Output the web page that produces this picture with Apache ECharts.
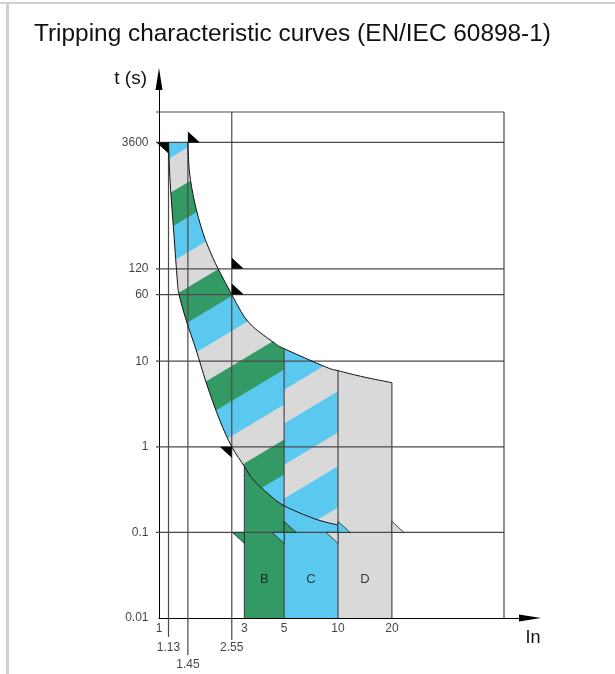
<!DOCTYPE html>
<html>
<head>
<meta charset="utf-8">
<script src="https://cdn.jsdelivr.net/npm/echarts@6/dist/echarts.min.js"></script>
<style>
  html, body { margin: 0; padding: 0; background: #fff; }
  #chart { width: 615px; height: 674px; }
</style>
</head>
<body>
<div id="chart"></div>
<script>
// tick labels (multiples of In, seconds)
const xTicks = [1, 1.13, 1.45, 2.55, 3, 5, 10, 20];
const yTicks = [0.01, 0.1, 1, 10, 60, 120, 3600];
const hRuleT = [3600, 120, 60, 10, 1, 0.1];

// diagram frame (top and right border of the grid box)
const yMin = 0.01;
const frameIn = 84.6;
const frameT = 8150;

// boundaries of the thermal band [In, t]
const lowerCurve = [[1.13, 3600], [1.155, 1197], [1.21, 315], [1.265, 89], [1.295, 60], [1.417, 30.3],
  [1.613, 13.5], [1.838, 5.56], [2.18, 2.06], [2.55, 1], [3, 0.59], [3.35, 0.415], [4.08, 0.282],
  [5, 0.205], [7.45, 0.1435], [10, 0.122]];
const upperCurve = [[1.45, 3600], [1.48, 1622], [1.58, 724], [1.76, 316], [2.0, 161], [2.28, 93],
  [2.55, 60], [2.76, 44.2], [3.0, 32.8], [3.32, 25.8], [3.64, 21.9], [4.42, 16.3], [5, 14],
  [8.56, 8.55], [10, 7.75], [13.97, 6.53], [20, 5.61]];

// magnetic bands
const bandNames = ['B', 'C', 'D'];
const bandRange = [[3, 5], [5, 10], [10, 20]];
const bandLabelT = 0.028;

// flag markers
const flagsBelowLeft = [[1.13, 3600], [2.55, 1]];
const flagsAboveRight = [[1.45, 3600], [2.55, 120], [2.55, 60]];
const bandFlagT = 0.1;

const GREEN = '#339a66', BLUE = '#5bc8ef', GREY = '#d9d9d9';
const bandColors = [GREEN, BLUE, GREY];
const FONT = 'Liberation Sans, Arial, sans-serif';

function idx(curve, x) { return curve.findIndex(p => p[0] === x); }
function tAt(curve, x) { return curve[idx(curve, x)][1]; }

// diagonal stripe pattern tile
function stripeFill(colors, shares, W, H, phase) {
  const cv = document.createElement('canvas');
  cv.width = W; cv.height = H;
  const ctx = cv.getContext('2d');
  const img = ctx.createImageData(W, H);
  const rgb = colors.map(c => [1, 3, 5].map(k => parseInt(c.substr(k, 2), 16)));
  const edges = []; let acc = 0;
  shares.forEach(s => { acc += s; edges.push(acc); });
  const S = 4;
  for (let j = 0; j < H; j++) {
    for (let i = 0; i < W; i++) {
      let r = 0, g = 0, b = 0;
      for (let sy = 0; sy < S; sy++) {
        for (let sx = 0; sx < S; sx++) {
          let f = (i + (sx + 0.5) / S) / W + (j + (sy + 0.5) / S) / H + phase;
          f -= Math.floor(f);
          let k = 0;
          while (k < edges.length - 1 && f >= edges[k]) k++;
          r += rgb[k][0]; g += rgb[k][1]; b += rgb[k][2];
        }
      }
      const o = (j * W + i) * 4;
      img.data[o] = r / (S * S);
      img.data[o + 1] = g / (S * S);
      img.data[o + 2] = b / (S * S);
      img.data[o + 3] = 255;
    }
  }
  ctx.putImageData(img, 0, 0);
  return { image: cv, repeat: 'repeat' };
}

const stripes3 = stripeFill([BLUE, GREY, GREEN], [1 / 3, 1 / 3, 1 / 3], 175, 105, 0.857);
const stripes2 = stripeFill([BLUE, GREY], [0.55, 0.45], 125, 75, 0.08);

// smooth (Catmull-Rom) pieces of a curve in pixel space
function bezSegs(curve, api) {
  const P = curve.map(p => api.coord(p));
  const segs = [];
  for (let i = 0; i < P.length - 1; i++) {
    const p0 = P[i - 1] || P[i], p1 = P[i], p2 = P[i + 1], p3 = P[i + 2] || P[i + 1];
    segs.push([p1,
      [p1[0] + (p2[0] - p0[0]) / 6, p1[1] + (p2[1] - p0[1]) / 6],
      [p2[0] - (p3[0] - p1[0]) / 6, p2[1] - (p3[1] - p1[1]) / 6],
      p2]);
  }
  return segs;
}
function fmt(p) { return p[0].toFixed(2) + ' ' + p[1].toFixed(2); }
// path commands following the curve from point i0 to point i1 (either direction)
function follow(segs, i0, i1) {
  let d = '';
  if (i1 > i0) {
    for (let i = i0; i < i1; i++) d += ' C' + fmt(segs[i][1]) + ' ' + fmt(segs[i][2]) + ' ' + fmt(segs[i][3]);
  } else {
    for (let i = i0 - 1; i >= i1; i--) d += ' C' + fmt(segs[i][2]) + ' ' + fmt(segs[i][1]) + ' ' + fmt(segs[i][0]);
  }
  return d;
}

const iU5 = idx(upperCurve, 5), iU10 = idx(upperCurve, 10), iUend = upperCurve.length - 1;
const iL3 = idx(lowerCurve, 3), iL5 = idx(lowerCurve, 5), iL10 = idx(lowerCurve, 10);

function renderFills(params, api) {
  if (params.dataIndex !== 0) return null;
  const U = bezSegs(upperCurve, api), L = bezSegs(lowerCurve, api);
  const up = i => (i < U.length ? U[i][0] : U[U.length - 1][3]);
  const lo = i => (i < L.length ? L[i][0] : L[L.length - 1][3]);
  const c = p => fmt(api.coord(p));
  const shapes = [
    [GREY, 'M' + fmt(up(0)) + follow(U, 0, iUend) + ' L' + c([20, yMin]) + ' L' + c([3, yMin]) +
      ' L' + fmt(lo(iL3)) + follow(L, iL3, 0) + ' Z'],
    [stripes3, 'M' + fmt(up(0)) + follow(U, 0, iU5) + ' L' + fmt(lo(iL5)) + follow(L, iL5, 0) + ' Z'],
    [stripes2, 'M' + fmt(up(iU5)) + follow(U, iU5, iU10) + ' L' + fmt(lo(iL10)) + follow(L, iL10, iL5) + ' Z'],
    [GREEN, 'M' + c([3, yMin]) + ' L' + c([5, yMin]) + ' L' + fmt(lo(iL5)) + follow(L, iL5, iL3) + ' Z'],
    [BLUE, 'M' + c([5, yMin]) + ' L' + c([10, yMin]) + ' L' + fmt(lo(iL10)) + follow(L, iL10, iL5) + ' Z']
  ];
  return {
    type: 'group',
    children: shapes.map(s => ({ type: 'path', shape: { pathData: s[1] }, style: { fill: s[0], stroke: null } }))
  };
}

function renderCurves(params, api) {
  if (params.dataIndex !== 0) return null;
  return {
    type: 'group',
    children: [upperCurve, lowerCurve].map(cv => {
      const S = bezSegs(cv, api);
      return { type: 'path', shape: { pathData: 'M' + fmt(S[0][0]) + follow(S, 0, S.length) },
        style: { fill: null, stroke: '#111', lineWidth: 1 } };
    })
  };
}

// rule lines: [x1, t1, x2, t2]
const rules = [];
hRuleT.forEach(t => rules.push([1, t, frameIn, t]));
rules.push([1, frameT, frameIn, frameT]);
rules.push([1.13, 3600, 1.13, yMin]);
rules.push([1.45, 3600, 1.45, yMin]);
rules.push([2.55, frameT, 2.55, yMin]);
rules.push([3, tAt(lowerCurve, 3), 3, yMin]);
rules.push([5, tAt(upperCurve, 5), 5, yMin]);
rules.push([10, tAt(upperCurve, 10), 10, yMin]);
rules.push([20, tAt(upperCurve, 20), 20, yMin]);
rules.push([frameIn, frameT, frameIn, yMin]);
const tailPx = { 1.13: 19, 1.45: 37, 2.55: 22 };

const flagLeftPath = 'path://M0,0 L12,0 L12,11 Z';
const flagRightPath = 'path://M0,0 L0,11 L12,11 Z';

const leftFlagData = flagsBelowLeft.map(p => ({ value: p, itemStyle: { color: '#000', borderWidth: 0 } }))
  .concat(bandRange.map((r, i) => ({ value: [r[0], bandFlagT], itemStyle: { color: bandColors[i] } })));
const rightFlagData = flagsAboveRight.map(p => ({ value: p, itemStyle: { color: '#000', borderWidth: 0 } }))
  .concat(bandRange.map((r, i) => ({ value: [r[1], bandFlagT], itemStyle: { color: bandColors[i] } })));

const xLabelDist = { 1.13: 23, 1.45: 40, 2.55: 23 };

const labelBase = { show: true, color: '#111', fontSize: 12, fontFamily: FONT };
const hidden = { color: 'rgba(0,0,0,0)' };

const chart = echarts.init(document.getElementById('chart'));
chart.setOption({
  animation: false,
  title: {
    text: 'Tripping characteristic curves (EN/IEC 60898-1)',
    left: 29, top: 17,
    textStyle: { fontSize: 24.4, fontWeight: 'normal', color: '#111', fontFamily: FONT }
  },
  graphic: [
    { type: 'rect', shape: { x: 0, y: 2, width: 615, height: 2 }, style: { fill: '#d0d0d0' } },
    { type: 'rect', shape: { x: 6, y: 2, width: 3, height: 672 }, style: { fill: '#d0d0d0' } }
  ],
  grid: { left: 159, right: 85, top: 79, bottom: 56 },
  xAxis: {
    type: 'log', logBase: 10, min: 1, max: 118.2,
    name: 'In', nameLocation: 'end', nameGap: 3,
    nameTextStyle: { fontSize: 18, color: '#111', fontFamily: FONT, align: 'center', verticalAlign: 'top', padding: [11, 0, 0, 0] },
    axisLine: { show: true, onZero: false, lineStyle: { color: '#000', width: 1 }, symbol: ['none', 'triangle'], symbolSize: [7, 22] },
    axisTick: { show: false }, axisLabel: { show: false }, splitLine: { show: false }, minorTick: { show: false }
  },
  yAxis: {
    type: 'log', logBase: 10, min: yMin, max: 19800,
    name: 't (s)', nameLocation: 'end', nameGap: 0,
    nameTextStyle: { fontSize: 19, color: '#111', fontFamily: FONT, align: 'right', verticalAlign: 'middle', padding: [0, 12, 0, 0] },
    axisLine: { show: true, onZero: false, lineStyle: { color: '#000', width: 1 }, symbol: ['none', 'triangle'], symbolSize: [7, 22] },
    axisTick: { show: false }, axisLabel: { show: false }, splitLine: { show: false }, minorTick: { show: false }
  },
  series: [
    { type: 'custom', coordinateSystem: 'cartesian2d', z: 1, silent: true, data: upperCurve.concat(lowerCurve), renderItem: renderFills },
    {
      type: 'custom', coordinateSystem: 'cartesian2d', z: 3, silent: true,
      data: rules,
      encode: { x: [0, 2], y: [1, 3] },
      renderItem: (params, api) => {
        const x1 = api.value(0), t1 = api.value(1), x2 = api.value(2), t2 = api.value(3);
        const a = api.coord([x1, t1]), b = api.coord([x2, t2]);
        if (t1 === t2) a[0] -= 3;
        if (x1 === x2 && tailPx[x1]) b[1] += tailPx[x1];
        return { type: 'line', shape: { x1: a[0], y1: a[1], x2: b[0], y2: b[1] }, style: { stroke: '#4a4a4a', lineWidth: 1.2 } };
      }
    },
    { type: 'custom', coordinateSystem: 'cartesian2d', z: 4, silent: true, data: upperCurve.concat(lowerCurve), renderItem: renderCurves },
    {
      type: 'scatter', z: 5, clip: false, silent: true, data: leftFlagData,
      symbol: flagLeftPath, symbolSize: [12, 11], symbolOffset: [-6, 5.5],
      itemStyle: { borderColor: '#222', borderWidth: 0.8, opacity: 1 }
    },
    {
      type: 'scatter', z: 5, clip: false, silent: true, data: rightFlagData,
      symbol: flagRightPath, symbolSize: [12, 11], symbolOffset: [6, -5.5],
      itemStyle: { borderColor: '#222', borderWidth: 0.8, opacity: 1 }
    },
    {
      type: 'scatter', z: 6, clip: false, silent: true, symbolSize: 1, itemStyle: hidden,
      data: xTicks.map(v => ({ value: [v, yMin], label: { distance: xLabelDist[v] || 4 } })),
      label: Object.assign({ position: 'bottom', formatter: p => String(p.value[0]) }, labelBase)
    },
    {
      type: 'scatter', z: 6, clip: false, silent: true, symbolSize: 1, itemStyle: hidden,
      data: yTicks.map(v => [1, v]),
      label: Object.assign({ position: 'left', distance: 10, formatter: p => String(p.value[1]) }, labelBase)
    },
    {
      type: 'scatter', z: 6, clip: false, silent: true, symbolSize: 1, itemStyle: hidden,
      data: bandRange.map((r, i) => ({ value: [Math.sqrt(r[0] * r[1]), bandLabelT], name: bandNames[i] })),
      label: Object.assign({ position: 'inside', formatter: p => p.name }, labelBase, { fontSize: 13 })
    }
  ]
});
</script>
</body>
</html>
